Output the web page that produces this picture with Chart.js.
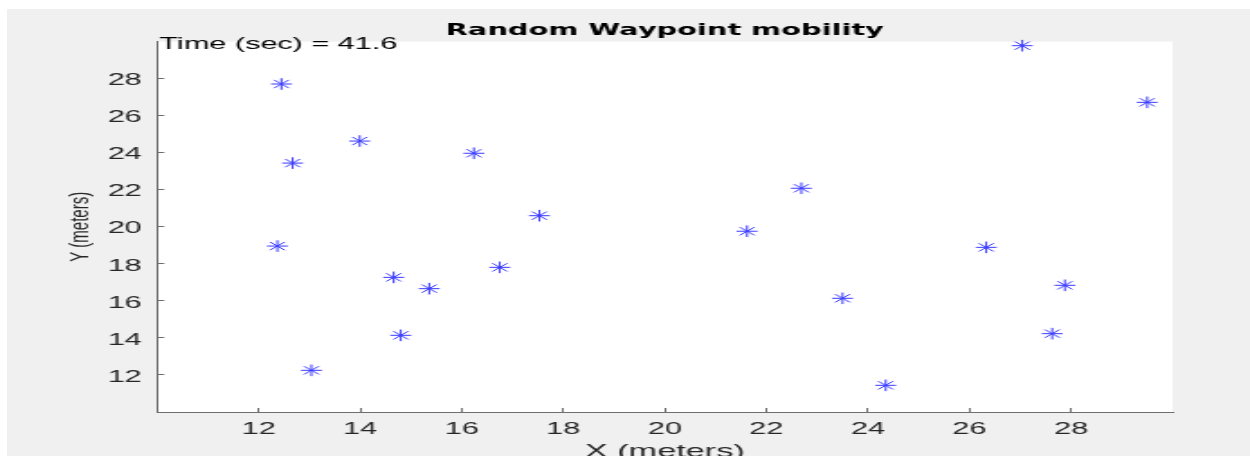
<!DOCTYPE html>
<html>
<head>
<meta charset="utf-8">
<script src="https://cdn.jsdelivr.net/npm/chart.js@4.4.1/dist/chart.umd.min.js"></script>
<style>
  body { margin: 0; background: #fff; width: 1250px; height: 456px; overflow: hidden; position: relative; }
  #fig { position: absolute; left: 7px; top: 9px; width: 1243px; height: 447px; background: #f0f0f0; overflow: hidden; }
  /* the reference figure is stretched sideways, so the canvas is too */
  #wrap { width: 690px; height: 470px; transform: scaleX(1.80145); transform-origin: 0 0; }
</style>
</head>
<body>
<div id="fig">
  <div id="wrap">
    <canvas id="chart" width="690" height="470"></canvas>
  </div>
</div>
<script>
// node positions (meters)
const xValues = [12.45, 13.99, 12.67, 16.24, 17.53, 12.37, 16.75, 14.66, 15.36, 14.80,
                 13.04, 27.04, 29.50, 22.69, 21.62, 26.33, 23.50, 27.88, 27.63, 24.35];
const yValues = [27.71, 24.63, 23.44, 23.97, 20.60, 18.96, 17.81, 17.27, 16.66, 14.14,
                 12.25, 29.78, 26.72, 22.08, 19.76, 18.89, 16.14, 16.84, 14.23, 11.44];

const xTickValues = [12, 14, 16, 18, 20, 22, 24, 26, 28];
const yTickValues = [12, 14, 16, 18, 20, 22, 24, 26, 28];
const axisMin = 10;
const axisMax = 30;

const titleText = 'Random Waypoint mobility';
const timeLabel = 'Time (sec) = 41.6';
const xLabel = 'X (meters)';
const yLabel = 'Y (meters)';

const fontFamily = '"Liberation Sans", Arial, Helvetica, sans-serif';
const axisColor = '#6e6e6e';
const textColor = '#262626';

const points = xValues.map((x, i) => ({ x: x, y: yValues[i] }));

// white plot box on the grey figure
const plotBackground = {
  id: 'plotBackground',
  beforeDraw(chart) {
    const { ctx, chartArea } = chart;
    ctx.save();
    ctx.fillStyle = '#ffffff';
    ctx.fillRect(chartArea.left, chartArea.top, chartArea.width, chartArea.height);
    ctx.restore();
  }
};

// "Time (sec) = ..." text at the top-left corner of the axes
const timeText = {
  id: 'timeText',
  afterDraw(chart) {
    const ctx = chart.ctx;
    const x = chart.scales.x.getPixelForValue(axisMin) + 1.3;
    const y = chart.scales.y.getPixelForValue(axisMax) + 7.7;
    ctx.save();
    ctx.font = '17px ' + fontFamily;
    ctx.fillStyle = '#000';
    ctx.textBaseline = 'alphabetic';
    ctx.textAlign = 'left';
    ctx.fillText(timeLabel, x, y);
    ctx.restore();
  }
};

function axisOptions(tickValues, size, isX) {
  return {
    type: 'linear',
    min: axisMin,
    max: axisMax,
    afterBuildTicks(scale) {
      scale.ticks = tickValues.map(v => ({ value: v }));
    },
    afterFit(scale) {
      if (isX) scale.height = size; else scale.width = size;
    },
    grid: {
      drawOnChartArea: false,
      drawTicks: true,
      tickLength: -4,
      tickColor: axisColor
    },
    border: { display: true, color: axisColor, width: 1 },
    ticks: {
      color: textColor,
      font: { family: fontFamily, size: 17 },
      padding: isX ? 10.8 : 12.5,
      labelOffset: isX ? 0 : 2
    },
    title: {
      display: true,
      text: isX ? xLabel : yLabel,
      color: textColor,
      font: { family: fontFamily, size: isX ? 19 : 15 },
      padding: isX ? { top: 0, bottom: 16 } : { top: 32, bottom: 0 }
    }
  };
}

const config = {
  type: 'scatter',
  data: {
    datasets: [{
      label: 'nodes',
      data: points,
      pointStyle: 'star',
      pointRadius: 5.8,
      pointHoverRadius: 5.8,
      borderColor: '#3a3aff',
      backgroundColor: '#3a3aff',
      borderWidth: 1,
      showLine: false,
      clip: false
    }]
  },
  options: {
    responsive: false,
    animation: false,
    events: [],
    layout: { padding: { left: 0, right: 43, top: 0, bottom: 0 } },
    plugins: {
      legend: { display: false },
      tooltip: { enabled: false },
      title: {
        display: true,
        text: titleText,
        fullSize: false,
        color: '#000',
        font: { family: '"DejaVu Sans", Verdana, sans-serif', size: 16, weight: 'bold' },
        padding: { top: 12.4, bottom: 1.0 }
      }
    },
    scales: {
      x: axisOptions(xTickValues, 67, true),
      y: axisOptions(yTickValues, 83.3, false)
    }
  },
  plugins: [plotBackground, timeText]
};

const myChart = new Chart(document.getElementById('chart'), config);
</script>
</body>
</html>
